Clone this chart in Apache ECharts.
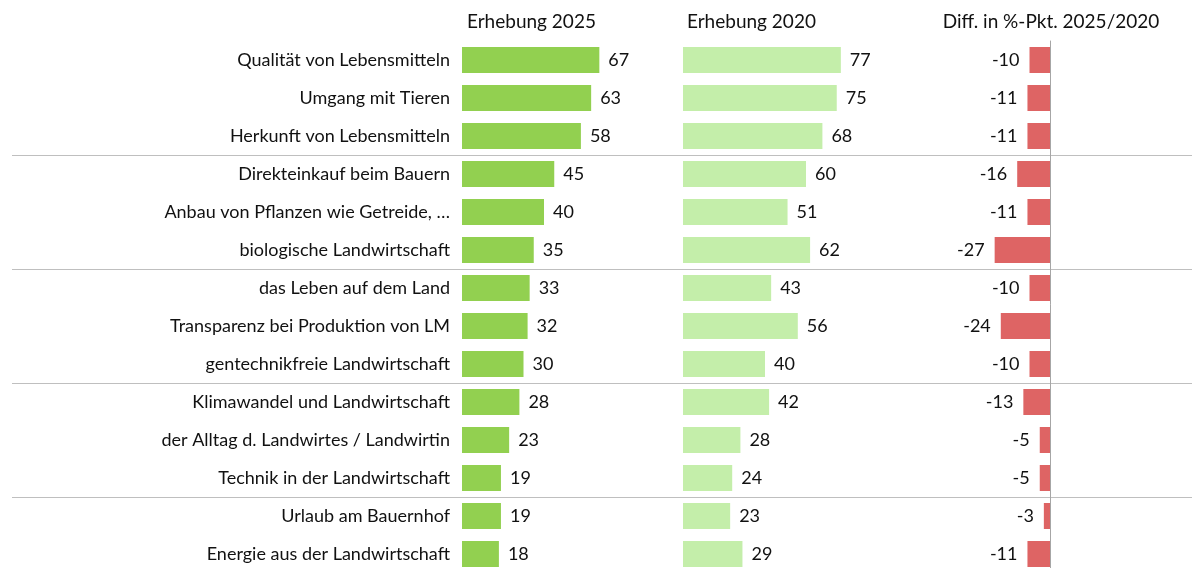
<!DOCTYPE html>
<html>
<head>
<meta charset="utf-8">
<script src="https://cdn.jsdelivr.net/npm/echarts@6/dist/echarts.min.js"></script>
<style>
  html, body { margin: 0; padding: 0; background: #fff; }
  #chart { width: 1192px; height: 568px; }
</style>
</head>
<body>
<div id="chart"></div>
<script>
  var categories = [
    'Qualität von Lebensmitteln',
    'Umgang mit Tieren',
    'Herkunft von Lebensmitteln',
    'Direkteinkauf beim Bauern',
    'Anbau von Pflanzen wie Getreide, …',
    'biologische Landwirtschaft',
    'das Leben auf dem Land',
    'Transparenz bei Produktion von LM',
    'gentechnikfreie Landwirtschaft',
    'Klimawandel und Landwirtschaft',
    'der Alltag d. Landwirtes / Landwirtin',
    'Technik in der Landwirtschaft',
    'Urlaub am Bauernhof',
    'Energie aus der Landwirtschaft'
  ];
  var values2025 = [67, 63, 58, 45, 40, 35, 33, 32, 30, 28, 23, 19, 19, 18];
  var values2020 = [77, 75, 68, 60, 51, 62, 43, 56, 40, 42, 28, 24, 23, 29];
  var diffValues = [-10, -11, -11, -16, -11, -27, -10, -24, -10, -13, -5, -5, -3, -11];
  var headers = ['Erhebung 2025', 'Erhebung 2020', 'Diff. in %-Pkt. 2025/2020'];

  var font = 'Lato, "Noto Sans", sans-serif';
  var txt = '#111';
  // 14 Zeilen à 38px, unten leicht abgeschnitten wie im Original
  var gridTop = 41, gridHeight = 532;

  function catAxis(grid, opts) {
    return Object.assign({
      type: 'category',
      gridIndex: grid,
      data: categories,
      inverse: true,
      axisLine: { show: false },
      axisTick: { show: false },
      axisLabel: { show: false },
      splitLine: { show: false }
    }, opts || {});
  }

  function gridAt(left, width, right) {
    var g = { left: left, top: gridTop, height: gridHeight, outerBoundsMode: 'none', containLabel: false };
    if (width != null) g.width = width;
    if (right != null) g.right = right;
    return g;
  }

  var chart = echarts.init(document.getElementById('chart'));
  chart.setOption({
    animation: false,
    textStyle: { fontFamily: font },
    graphic: [
      { type: 'text', x: 467, y: 12, style: { text: headers[0], font: '19px ' + font, fill: txt } },
      { type: 'text', x: 687, y: 12, style: { text: headers[1], font: '19px ' + font, fill: txt } },
      { type: 'text', x: 1051, y: 12, style: { text: headers[2], font: '19px ' + font, fill: txt, align: 'center' } }
    ],
    grid: [
      gridAt(462, 205),
      gridAt(683, 205),
      gridAt(845, 205),
      gridAt(12, null, 0)
    ],
    xAxis: [
      { type: 'value', gridIndex: 0, min: 0, max: 100, show: false },
      { type: 'value', gridIndex: 1, min: 0, max: 100, show: false },
      { type: 'value', gridIndex: 2, min: -100, max: 0, show: false },
      { type: 'value', gridIndex: 3, min: 0, max: 100, show: false }
    ],
    yAxis: [
      catAxis(0, {
        axisLabel: { show: true, color: txt, fontSize: 18, fontFamily: font, margin: 12 }
      }),
      catAxis(1),
      catAxis(2, {
        position: 'right',
        axisLine: { show: true, onZero: false, lineStyle: { color: '#a6a6a6', width: 1 } }
      }),
      catAxis(3, {
        splitLine: {
          show: true,
          interval: function (i) { return i > 0 && i % 3 === 0; },
          lineStyle: { color: '#bfbfbf', width: 1 }
        }
      })
    ],
    series: [
      {
        type: 'bar', xAxisIndex: 0, yAxisIndex: 0, data: values2025, barWidth: 26,
        itemStyle: { color: '#92d050' },
        label: { show: true, position: 'right', distance: 9, color: txt, fontSize: 18, fontFamily: font }
      },
      {
        type: 'bar', xAxisIndex: 1, yAxisIndex: 1, data: values2020, barWidth: 26,
        itemStyle: { color: '#c4eeaa' },
        label: { show: true, position: 'right', distance: 9, color: txt, fontSize: 18, fontFamily: font }
      },
      {
        type: 'bar', xAxisIndex: 2, yAxisIndex: 2, data: diffValues, barWidth: 26,
        itemStyle: { color: '#de6464' },
        label: { show: true, position: 'left', distance: 10, color: txt, fontSize: 18, fontFamily: font }
      },
      { type: 'bar', xAxisIndex: 3, yAxisIndex: 3, data: [], silent: true }
    ]
  });
</script>
</body>
</html>
